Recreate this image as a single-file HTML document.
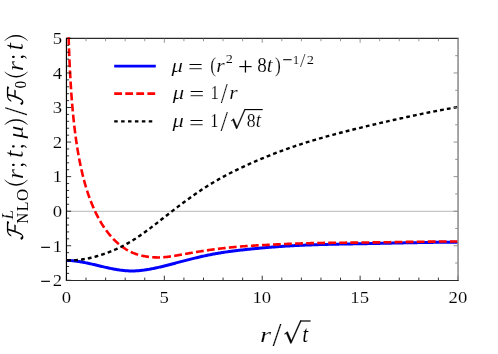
<!DOCTYPE html>
<html><head><meta charset="utf-8"><title>plot</title>
<style>html,body{margin:0;padding:0;background:#fff;}svg{display:block;will-change:transform;}text{font-family:"Liberation Serif",serif;fill:#000;}</style></head><body>
<svg width="498" height="354" viewBox="0 0 498 354">
<rect width="498" height="354" fill="#fff"/>
<defs><clipPath id="c"><rect x="65.95" y="37.00" width="392.75" height="244.90"/></clipPath></defs>
<line x1="66.45" y1="211.39" x2="458.00" y2="211.39" stroke="#c6c6c6" stroke-width="1.1"/>
<line x1="66.45" y1="38.40" x2="458.70" y2="38.40" stroke="#2a2a2a" stroke-width="1.2"/>
<g clip-path="url(#c)" fill="none" stroke-linejoin="round">
<path d="M66.45,260.37 L67.43,260.40 L68.41,260.44 L69.39,260.49 L70.37,260.55 L71.34,260.63 L72.32,260.71 L73.30,260.81 L74.28,260.92 L75.26,261.03 L76.24,261.16 L77.22,261.29 L78.20,261.44 L79.18,261.59 L80.15,261.75 L81.13,261.92 L82.11,262.09 L83.09,262.27 L84.07,262.46 L85.05,262.65 L86.03,262.85 L87.01,263.05 L87.99,263.26 L88.96,263.47 L89.94,263.69 L90.92,263.91 L91.90,264.13 L92.88,264.35 L93.86,264.58 L94.84,264.81 L95.82,265.04 L96.80,265.27 L97.77,265.50 L98.75,265.74 L99.73,265.97 L100.71,266.20 L101.69,266.43 L102.67,266.66 L103.65,266.89 L104.63,267.11 L105.61,267.34 L106.58,267.56 L107.56,267.77 L108.54,267.99 L109.52,268.20 L110.50,268.40 L111.48,268.60 L112.46,268.79 L113.44,268.98 L114.41,269.16 L115.39,269.34 L116.37,269.51 L117.35,269.67 L118.33,269.82 L119.31,269.97 L120.29,270.11 L121.27,270.23 L122.25,270.35 L123.22,270.46 L124.20,270.56 L125.18,270.65 L126.16,270.73 L127.14,270.79 L128.12,270.85 L129.10,270.89 L130.08,270.92 L131.06,270.94 L132.03,270.94 L133.01,270.93 L133.99,270.91 L134.97,270.88 L135.95,270.84 L136.93,270.78 L137.91,270.72 L138.89,270.64 L139.87,270.56 L140.84,270.46 L141.82,270.36 L142.80,270.24 L143.78,270.12 L144.76,269.98 L145.74,269.84 L146.72,269.70 L147.70,269.54 L148.68,269.37 L149.65,269.20 L150.63,269.02 L151.61,268.84 L152.59,268.65 L153.57,268.45 L154.55,268.25 L155.53,268.04 L156.51,267.82 L157.49,267.61 L158.46,267.38 L159.44,267.15 L160.42,266.92 L161.40,266.69 L162.38,266.45 L163.36,266.21 L164.34,265.96 L165.32,265.72 L166.30,265.47 L167.27,265.22 L168.25,264.97 L169.23,264.71 L170.21,264.46 L171.19,264.20 L172.17,263.95 L173.15,263.69 L174.13,263.43 L175.11,263.18 L176.08,262.92 L177.06,262.66 L178.04,262.40 L179.02,262.15 L180.00,261.89 L180.98,261.63 L181.96,261.38 L182.94,261.12 L183.92,260.87 L184.89,260.62 L185.87,260.36 L186.85,260.11 L187.83,259.86 L188.81,259.61 L189.79,259.36 L190.77,259.12 L191.75,258.87 L192.72,258.63 L193.70,258.39 L194.68,258.15 L195.66,257.91 L196.64,257.67 L197.62,257.44 L198.60,257.21 L199.58,256.98 L200.56,256.76 L201.53,256.53 L202.51,256.31 L203.49,256.09 L204.47,255.88 L205.45,255.67 L206.43,255.46 L207.41,255.25 L208.39,255.05 L209.37,254.85 L210.34,254.66 L211.32,254.47 L212.30,254.28 L213.28,254.10 L214.26,253.92 L215.24,253.74 L216.22,253.57 L217.20,253.40 L218.18,253.23 L219.15,253.06 L220.13,252.90 L221.11,252.75 L222.09,252.59 L223.07,252.44 L224.05,252.29 L225.03,252.14 L226.01,252.00 L226.99,251.86 L227.96,251.72 L228.94,251.58 L229.92,251.45 L230.90,251.32 L231.88,251.19 L232.86,251.06 L233.84,250.93 L234.82,250.81 L235.80,250.69 L236.77,250.57 L237.75,250.45 L238.73,250.34 L239.71,250.22 L240.69,250.11 L241.67,250.00 L242.65,249.89 L243.63,249.78 L244.61,249.67 L245.58,249.57 L246.56,249.47 L247.54,249.36 L248.52,249.26 L249.50,249.16 L250.48,249.06 L251.46,248.96 L252.44,248.86 L253.42,248.77 L254.39,248.67 L255.37,248.57 L256.35,248.48 L257.33,248.39 L258.31,248.29 L259.29,248.20 L260.27,248.11 L261.25,248.02 L262.23,247.93 L263.20,247.85 L264.18,247.76 L265.16,247.67 L266.14,247.59 L267.12,247.51 L268.10,247.42 L269.08,247.34 L270.06,247.26 L271.03,247.18 L272.01,247.10 L272.99,247.03 L273.97,246.95 L274.95,246.88 L275.93,246.80 L276.91,246.73 L277.89,246.66 L278.87,246.59 L279.84,246.52 L280.82,246.45 L281.80,246.38 L282.78,246.32 L283.76,246.25 L284.74,246.19 L285.72,246.12 L286.70,246.06 L287.68,246.00 L288.65,245.94 L289.63,245.89 L290.61,245.83 L291.59,245.77 L292.57,245.72 L293.55,245.67 L294.53,245.61 L295.51,245.56 L296.49,245.51 L297.46,245.46 L298.44,245.42 L299.42,245.37 L300.40,245.32 L301.38,245.28 L302.36,245.23 L303.34,245.19 L304.32,245.15 L305.30,245.11 L306.27,245.07 L307.25,245.03 L308.23,244.99 L309.21,244.95 L310.19,244.92 L311.17,244.88 L312.15,244.84 L313.13,244.81 L314.11,244.78 L315.08,244.74 L316.06,244.71 L317.04,244.68 L318.02,244.65 L319.00,244.62 L319.98,244.59 L320.96,244.56 L321.94,244.53 L322.92,244.51 L323.89,244.48 L324.87,244.45 L325.85,244.43 L326.83,244.40 L327.81,244.38 L328.79,244.35 L329.77,244.33 L330.75,244.31 L331.73,244.28 L332.70,244.26 L333.68,244.24 L334.66,244.22 L335.64,244.20 L336.62,244.18 L337.60,244.15 L338.58,244.13 L339.56,244.12 L340.53,244.10 L341.51,244.08 L342.49,244.06 L343.47,244.04 L344.45,244.02 L345.43,244.00 L346.41,243.99 L347.39,243.97 L348.37,243.95 L349.34,243.93 L350.32,243.92 L351.30,243.90 L352.28,243.88 L353.26,243.86 L354.24,243.85 L355.22,243.83 L356.20,243.81 L357.18,243.80 L358.15,243.78 L359.13,243.76 L360.11,243.75 L361.09,243.73 L362.07,243.71 L363.05,243.70 L364.03,243.68 L365.01,243.66 L365.99,243.64 L366.96,243.63 L367.94,243.61 L368.92,243.59 L369.90,243.57 L370.88,243.56 L371.86,243.54 L372.84,243.52 L373.82,243.50 L374.80,243.48 L375.77,243.46 L376.75,243.44 L377.73,243.42 L378.71,243.40 L379.69,243.38 L380.67,243.36 L381.65,243.34 L382.63,243.32 L383.61,243.30 L384.58,243.28 L385.56,243.26 L386.54,243.24 L387.52,243.22 L388.50,243.20 L389.48,243.18 L390.46,243.16 L391.44,243.14 L392.42,243.12 L393.39,243.10 L394.37,243.08 L395.35,243.06 L396.33,243.04 L397.31,243.02 L398.29,242.99 L399.27,242.97 L400.25,242.95 L401.23,242.93 L402.20,242.91 L403.18,242.89 L404.16,242.87 L405.14,242.85 L406.12,242.83 L407.10,242.81 L408.08,242.79 L409.06,242.78 L410.04,242.76 L411.01,242.74 L411.99,242.72 L412.97,242.70 L413.95,242.68 L414.93,242.66 L415.91,242.64 L416.89,242.63 L417.87,242.61 L418.85,242.59 L419.82,242.57 L420.80,242.56 L421.78,242.54 L422.76,242.52 L423.74,242.51 L424.72,242.49 L425.70,242.48 L426.68,242.46 L427.65,242.45 L428.63,242.43 L429.61,242.42 L430.59,242.40 L431.57,242.39 L432.55,242.38 L433.53,242.37 L434.51,242.35 L435.49,242.34 L436.46,242.33 L437.44,242.32 L438.42,242.31 L439.40,242.30 L440.38,242.29 L441.36,242.28 L442.34,242.27 L443.32,242.26 L444.30,242.25 L445.27,242.25 L446.25,242.24 L447.23,242.23 L448.21,242.23 L449.19,242.22 L450.17,242.22 L451.15,242.21 L452.13,242.21 L453.11,242.21 L454.08,242.20 L455.06,242.20 L456.04,242.20 L457.02,242.20 L458.00,242.20" stroke="#0000ff" stroke-width="3"/>
<path d="M68.60,37.02 L68.64,38.40 L68.84,44.20 L69.03,49.55 L69.22,54.51 L69.42,59.14 L69.61,63.48 L69.80,67.55 L70.00,71.40 L70.19,75.05 L70.38,78.51 L70.58,81.80 L70.77,84.94 L70.96,87.95 L71.16,90.82 L71.35,93.58 L71.54,96.24 L71.73,98.79 L71.93,101.26 L72.12,103.63 L72.31,105.93 L72.51,108.15 L72.70,110.30 L72.89,112.38 L73.09,114.41 L73.28,116.37 L73.47,118.28 L73.67,120.14 L73.86,121.94 L74.05,123.70 L74.25,125.41 L74.44,127.09 L74.63,128.72 L74.83,130.31 L75.02,131.87 L75.21,133.39 L75.40,134.87 L75.60,136.32 L75.79,137.75 L75.98,139.14 L76.18,140.50 L76.37,141.84 L76.56,143.15 L76.76,144.44 L76.95,145.70 L77.14,146.93 L77.34,148.15 L77.53,149.34 L77.72,150.51 L77.92,151.66 L78.11,152.79 L78.30,153.90 L78.49,154.99 L78.69,156.06 L78.88,157.12 L79.07,158.16 L79.27,159.18 L79.46,160.19 L79.65,161.18 L79.85,162.15 L80.04,163.11 L80.23,164.06 L80.43,164.99 L80.62,165.91 L80.81,166.82 L81.01,167.71 L81.20,168.59 L81.39,169.46 L81.59,170.32 L81.78,171.16 L81.97,172.00 L82.16,172.82 L82.36,173.63 L82.55,174.43 L82.74,175.22 L82.94,176.01 L83.13,176.78 L83.32,177.54 L83.52,178.29 L83.71,179.03 L83.90,179.77 L84.10,180.49 L84.29,181.21 L84.48,181.92 L84.68,182.62 L84.87,183.31 L85.06,183.99 L85.25,184.67 L85.45,185.34 L85.64,186.00 L85.83,186.65 L86.03,187.30 L86.42,188.59 L87.35,191.54 L88.28,194.35 L89.21,197.02 L90.14,199.57 L91.08,202.01 L92.01,204.34 L92.94,206.57 L93.87,208.71 L94.80,210.76 L95.73,212.73 L96.66,214.62 L97.59,216.44 L98.53,218.19 L99.46,219.87 L100.39,221.49 L101.32,223.05 L102.25,224.56 L103.18,226.01 L104.11,227.42 L105.04,228.77 L105.98,230.08 L106.91,231.34 L107.84,232.55 L108.77,233.73 L109.70,234.86 L110.63,235.96 L111.56,237.02 L112.49,238.04 L113.43,239.03 L114.36,239.98 L115.29,240.90 L116.22,241.79 L117.15,242.64 L118.08,243.46 L119.01,244.26 L119.95,245.02 L120.88,245.75 L121.81,246.46 L122.74,247.14 L123.67,247.79 L124.60,248.41 L125.53,249.01 L126.46,249.58 L127.40,250.12 L128.33,250.64 L129.26,251.13 L130.19,251.60 L131.12,252.05 L132.05,252.47 L132.98,252.87 L133.91,253.24 L134.85,253.60 L135.78,253.93 L136.71,254.25 L137.64,254.54 L138.57,254.82 L139.50,255.08 L140.43,255.33 L141.36,255.56 L142.30,255.77 L143.23,255.97 L144.16,256.15 L145.09,256.32 L146.02,256.48 L146.95,256.63 L147.88,256.76 L148.81,256.88 L149.75,256.98 L150.68,257.08 L151.61,257.17 L152.54,257.24 L153.47,257.30 L154.40,257.35 L155.33,257.39 L156.27,257.42 L157.20,257.43 L158.13,257.44 L159.06,257.43 L159.99,257.41 L160.92,257.38 L161.85,257.34 L162.78,257.29 L163.72,257.23 L164.65,257.15 L165.58,257.07 L166.51,256.98 L167.44,256.87 L168.37,256.76 L169.30,256.64 L170.23,256.52 L171.17,256.38 L172.10,256.25 L173.03,256.10 L173.96,255.95 L174.89,255.80 L175.82,255.64 L176.75,255.48 L177.68,255.31 L178.62,255.15 L179.55,254.98 L180.48,254.81 L181.41,254.64 L182.34,254.48 L183.27,254.31 L184.20,254.14 L185.13,253.97 L186.07,253.80 L187.00,253.64 L187.93,253.47 L188.86,253.30 L189.79,253.14 L190.72,252.98 L191.65,252.82 L192.59,252.66 L193.52,252.50 L194.45,252.34 L195.38,252.19 L196.31,252.03 L197.24,251.88 L198.17,251.73 L199.10,251.57 L200.04,251.42 L200.97,251.28 L201.90,251.13 L202.83,250.98 L203.76,250.84 L204.69,250.70 L205.62,250.55 L206.55,250.41 L207.49,250.28 L208.42,250.14 L209.35,250.01 L210.28,249.87 L211.21,249.74 L212.14,249.61 L213.07,249.49 L214.00,249.36 L214.94,249.24 L215.87,249.12 L216.80,249.00 L217.73,248.88 L218.66,248.76 L219.59,248.65 L220.52,248.54 L221.45,248.42 L222.39,248.31 L223.32,248.20 L224.25,248.10 L225.18,247.99 L226.11,247.89 L227.04,247.79 L227.97,247.69 L228.90,247.59 L229.84,247.49 L230.77,247.39 L231.70,247.30 L232.63,247.21 L233.56,247.12 L234.49,247.03 L235.42,246.94 L236.36,246.86 L237.29,246.78 L238.22,246.70 L239.15,246.62 L240.08,246.54 L241.01,246.47 L241.94,246.39 L242.87,246.32 L243.81,246.25 L244.74,246.19 L245.67,246.12 L246.60,246.05 L247.53,245.99 L248.46,245.93 L249.39,245.87 L250.32,245.81 L251.26,245.75 L252.19,245.70 L253.12,245.64 L254.05,245.58 L254.98,245.53 L255.91,245.48 L256.84,245.42 L257.77,245.37 L258.71,245.32 L259.64,245.27 L260.57,245.22 L261.50,245.17 L262.43,245.12 L263.36,245.07 L264.29,245.02 L265.22,244.97 L266.16,244.93 L267.09,244.88 L268.02,244.83 L268.95,244.78 L269.88,244.74 L270.81,244.69 L271.74,244.64 L272.68,244.60 L273.61,244.55 L274.54,244.51 L275.47,244.46 L276.40,244.41 L277.33,244.37 L278.26,244.33 L279.19,244.28 L280.13,244.24 L281.06,244.20 L281.99,244.15 L282.92,244.11 L283.85,244.07 L284.78,244.03 L285.71,243.99 L286.64,243.95 L287.58,243.91 L288.51,243.87 L289.44,243.83 L290.37,243.80 L291.30,243.76 L292.23,243.73 L293.16,243.69 L294.09,243.66 L295.03,243.62 L295.96,243.59 L296.89,243.56 L297.82,243.53 L298.75,243.50 L299.68,243.47 L300.61,243.44 L301.54,243.41 L302.48,243.39 L303.41,243.36 L304.34,243.33 L305.27,243.31 L306.20,243.28 L307.13,243.26 L308.06,243.24 L309.00,243.21 L309.93,243.19 L310.86,243.17 L311.79,243.15 L312.72,243.13 L313.65,243.11 L314.58,243.09 L315.51,243.07 L316.45,243.05 L317.38,243.03 L318.31,243.02 L319.24,243.00 L320.17,242.98 L321.10,242.97 L322.03,242.95 L322.96,242.94 L323.90,242.92 L324.83,242.91 L325.76,242.90 L326.69,242.88 L327.62,242.87 L328.55,242.86 L329.48,242.84 L330.41,242.83 L331.35,242.82 L332.28,242.81 L333.21,242.80 L334.14,242.79 L335.07,242.78 L336.00,242.77 L336.93,242.76 L337.86,242.75 L338.80,242.74 L339.73,242.73 L340.66,242.72 L341.59,242.71 L342.52,242.70 L343.45,242.69 L344.38,242.68 L345.32,242.68 L346.25,242.67 L347.18,242.66 L348.11,242.65 L349.04,242.64 L349.97,242.63 L350.90,242.63 L351.83,242.62 L352.77,242.61 L353.70,242.60 L354.63,242.59 L355.56,242.59 L356.49,242.58 L357.42,242.57 L358.35,242.56 L359.28,242.55 L360.22,242.54 L361.15,242.54 L362.08,242.53 L363.01,242.52 L363.94,242.51 L364.87,242.50 L365.80,242.49 L366.73,242.48 L367.67,242.47 L368.60,242.46 L369.53,242.45 L370.46,242.44 L371.39,242.43 L372.32,242.42 L373.25,242.41 L374.18,242.40 L375.12,242.39 L376.05,242.37 L376.98,242.36 L377.91,242.35 L378.84,242.34 L379.77,242.32 L380.70,242.31 L381.63,242.30 L382.57,242.29 L383.50,242.27 L384.43,242.26 L385.36,242.25 L386.29,242.23 L387.22,242.22 L388.15,242.20 L389.09,242.19 L390.02,242.18 L390.95,242.16 L391.88,242.15 L392.81,242.13 L393.74,242.12 L394.67,242.11 L395.60,242.09 L396.54,242.08 L397.47,242.06 L398.40,242.05 L399.33,242.03 L400.26,242.02 L401.19,242.01 L402.12,241.99 L403.05,241.98 L403.99,241.96 L404.92,241.95 L405.85,241.94 L406.78,241.92 L407.71,241.91 L408.64,241.89 L409.57,241.88 L410.50,241.87 L411.44,241.85 L412.37,241.84 L413.30,241.83 L414.23,241.81 L415.16,241.80 L416.09,241.79 L417.02,241.78 L417.95,241.76 L418.89,241.75 L419.82,241.74 L420.75,241.73 L421.68,241.72 L422.61,241.71 L423.54,241.69 L424.47,241.68 L425.41,241.67 L426.34,241.66 L427.27,241.65 L428.20,241.64 L429.13,241.63 L430.06,241.62 L430.99,241.61 L431.92,241.61 L432.86,241.60 L433.79,241.59 L434.72,241.58 L435.65,241.57 L436.58,241.57 L437.51,241.56 L438.44,241.55 L439.37,241.55 L440.31,241.54 L441.24,241.54 L442.17,241.53 L443.10,241.53 L444.03,241.52 L444.96,241.52 L445.89,241.52 L446.82,241.51 L447.76,241.51 L448.69,241.51 L449.62,241.51 L450.55,241.51 L451.48,241.51 L452.41,241.51 L453.34,241.51 L454.27,241.51 L455.21,241.51 L456.14,241.51 L457.07,241.52 L458.00,241.52" stroke="#ff0000" stroke-width="2.6" stroke-dasharray="7.8 3.26" stroke-dashoffset="-0.28"/>
<path d="M66.45,260.37 L67.43,260.39 L68.41,260.40 L69.39,260.39 L70.37,260.38 L71.34,260.36 L72.32,260.33 L73.30,260.29 L74.28,260.24 L75.26,260.17 L76.24,260.10 L77.22,260.02 L78.20,259.92 L79.18,259.82 L80.15,259.70 L81.13,259.58 L82.11,259.44 L83.09,259.30 L84.07,259.14 L85.05,258.97 L86.03,258.80 L87.01,258.61 L87.99,258.42 L88.96,258.21 L89.94,257.99 L90.92,257.77 L91.90,257.54 L92.88,257.30 L93.86,257.05 L94.84,256.79 L95.82,256.52 L96.80,256.24 L97.77,255.96 L98.75,255.66 L99.73,255.36 L100.71,255.06 L101.69,254.74 L102.67,254.41 L103.65,254.08 L104.63,253.74 L105.61,253.39 L106.58,253.04 L107.56,252.68 L108.54,252.31 L109.52,251.93 L110.50,251.54 L111.48,251.15 L112.46,250.74 L113.44,250.33 L114.41,249.92 L115.39,249.49 L116.37,249.05 L117.35,248.61 L118.33,248.16 L119.31,247.70 L120.29,247.23 L121.27,246.75 L122.25,246.26 L123.22,245.76 L124.20,245.25 L125.18,244.73 L126.16,244.20 L127.14,243.66 L128.12,243.11 L129.10,242.55 L130.08,241.98 L131.06,241.39 L132.03,240.80 L133.01,240.19 L133.99,239.57 L134.97,238.95 L135.95,238.31 L136.93,237.66 L137.91,237.01 L138.89,236.35 L139.87,235.68 L140.84,235.00 L141.82,234.31 L142.80,233.62 L143.78,232.92 L144.76,232.21 L145.74,231.50 L146.72,230.78 L147.70,230.05 L148.68,229.33 L149.65,228.59 L150.63,227.85 L151.61,227.11 L152.59,226.37 L153.57,225.62 L154.55,224.87 L155.53,224.11 L156.51,223.35 L157.49,222.59 L158.46,221.83 L159.44,221.07 L160.42,220.30 L161.40,219.54 L162.38,218.77 L163.36,218.01 L164.34,217.24 L165.32,216.47 L166.30,215.71 L167.27,214.94 L168.25,214.18 L169.23,213.42 L170.21,212.65 L171.19,211.90 L172.17,211.14 L173.15,210.38 L174.13,209.63 L175.11,208.88 L176.08,208.13 L177.06,207.39 L178.04,206.65 L179.02,205.91 L180.00,205.17 L180.98,204.44 L181.96,203.71 L182.94,202.98 L183.92,202.25 L184.89,201.53 L185.87,200.81 L186.85,200.10 L187.83,199.39 L188.81,198.68 L189.79,197.98 L190.77,197.28 L191.75,196.58 L192.72,195.89 L193.70,195.20 L194.68,194.52 L195.66,193.84 L196.64,193.17 L197.62,192.50 L198.60,191.83 L199.58,191.17 L200.56,190.51 L201.53,189.86 L202.51,189.22 L203.49,188.58 L204.47,187.94 L205.45,187.31 L206.43,186.68 L207.41,186.06 L208.39,185.45 L209.37,184.84 L210.34,184.24 L211.32,183.64 L212.30,183.05 L213.28,182.46 L214.26,181.88 L215.24,181.31 L216.22,180.74 L217.20,180.17 L218.18,179.61 L219.15,179.06 L220.13,178.51 L221.11,177.96 L222.09,177.42 L223.07,176.89 L224.05,176.36 L225.03,175.83 L226.01,175.31 L226.99,174.79 L227.96,174.28 L228.94,173.77 L229.92,173.27 L230.90,172.77 L231.88,172.27 L232.86,171.78 L233.84,171.29 L234.82,170.80 L235.80,170.32 L236.77,169.85 L237.75,169.37 L238.73,168.90 L239.71,168.43 L240.69,167.97 L241.67,167.51 L242.65,167.05 L243.63,166.60 L244.61,166.14 L245.58,165.69 L246.56,165.25 L247.54,164.80 L248.52,164.36 L249.50,163.92 L250.48,163.49 L251.46,163.06 L252.44,162.62 L253.42,162.19 L254.39,161.77 L255.37,161.34 L256.35,160.92 L257.33,160.50 L258.31,160.09 L259.29,159.67 L260.27,159.26 L261.25,158.85 L262.23,158.44 L263.20,158.04 L264.18,157.63 L265.16,157.23 L266.14,156.83 L267.12,156.44 L268.10,156.05 L269.08,155.65 L270.06,155.27 L271.03,154.88 L272.01,154.49 L272.99,154.11 L273.97,153.73 L274.95,153.36 L275.93,152.98 L276.91,152.61 L277.89,152.24 L278.87,151.87 L279.84,151.50 L280.82,151.14 L281.80,150.78 L282.78,150.42 L283.76,150.07 L284.74,149.71 L285.72,149.36 L286.70,149.01 L287.68,148.66 L288.65,148.32 L289.63,147.98 L290.61,147.64 L291.59,147.30 L292.57,146.96 L293.55,146.63 L294.53,146.30 L295.51,145.97 L296.49,145.64 L297.46,145.32 L298.44,144.99 L299.42,144.67 L300.40,144.35 L301.38,144.04 L302.36,143.72 L303.34,143.41 L304.32,143.10 L305.30,142.79 L306.27,142.48 L307.25,142.18 L308.23,141.87 L309.21,141.57 L310.19,141.27 L311.17,140.97 L312.15,140.68 L313.13,140.38 L314.11,140.09 L315.08,139.80 L316.06,139.51 L317.04,139.22 L318.02,138.93 L319.00,138.65 L319.98,138.36 L320.96,138.08 L321.94,137.80 L322.92,137.52 L323.89,137.25 L324.87,136.97 L325.85,136.70 L326.83,136.42 L327.81,136.15 L328.79,135.88 L329.77,135.61 L330.75,135.35 L331.73,135.08 L332.70,134.81 L333.68,134.55 L334.66,134.29 L335.64,134.03 L336.62,133.77 L337.60,133.51 L338.58,133.25 L339.56,132.99 L340.53,132.74 L341.51,132.48 L342.49,132.23 L343.47,131.98 L344.45,131.72 L345.43,131.47 L346.41,131.22 L347.39,130.97 L348.37,130.73 L349.34,130.48 L350.32,130.23 L351.30,129.99 L352.28,129.74 L353.26,129.50 L354.24,129.26 L355.22,129.02 L356.20,128.77 L357.18,128.53 L358.15,128.29 L359.13,128.06 L360.11,127.82 L361.09,127.58 L362.07,127.34 L363.05,127.10 L364.03,126.87 L365.01,126.63 L365.99,126.40 L366.96,126.16 L367.94,125.93 L368.92,125.70 L369.90,125.46 L370.88,125.23 L371.86,125.00 L372.84,124.77 L373.82,124.54 L374.80,124.31 L375.77,124.07 L376.75,123.84 L377.73,123.62 L378.71,123.39 L379.69,123.16 L380.67,122.93 L381.65,122.70 L382.63,122.48 L383.61,122.25 L384.58,122.02 L385.56,121.80 L386.54,121.57 L387.52,121.35 L388.50,121.12 L389.48,120.90 L390.46,120.68 L391.44,120.46 L392.42,120.23 L393.39,120.01 L394.37,119.79 L395.35,119.57 L396.33,119.35 L397.31,119.14 L398.29,118.92 L399.27,118.70 L400.25,118.48 L401.23,118.27 L402.20,118.05 L403.18,117.84 L404.16,117.62 L405.14,117.41 L406.12,117.19 L407.10,116.98 L408.08,116.77 L409.06,116.56 L410.04,116.35 L411.01,116.14 L411.99,115.93 L412.97,115.72 L413.95,115.51 L414.93,115.31 L415.91,115.10 L416.89,114.89 L417.87,114.69 L418.85,114.49 L419.82,114.28 L420.80,114.08 L421.78,113.88 L422.76,113.68 L423.74,113.48 L424.72,113.28 L425.70,113.08 L426.68,112.88 L427.65,112.68 L428.63,112.49 L429.61,112.29 L430.59,112.10 L431.57,111.90 L432.55,111.71 L433.53,111.52 L434.51,111.33 L435.49,111.14 L436.46,110.95 L437.44,110.76 L438.42,110.57 L439.40,110.38 L440.38,110.20 L441.36,110.01 L442.34,109.83 L443.32,109.64 L444.30,109.46 L445.27,109.28 L446.25,109.10 L447.23,108.92 L448.21,108.74 L449.19,108.56 L450.17,108.39 L451.15,108.21 L452.13,108.04 L453.11,107.86 L454.08,107.69 L455.06,107.52 L456.04,107.35 L457.02,107.18 L458.00,107.01" stroke="#000" stroke-width="2.4" stroke-dasharray="3.8 3.111" stroke-dashoffset="-0.8"/>
</g>
<line x1="66.45" y1="280.30" x2="66.45" y2="275.70" stroke="#000" stroke-width="0.8"/>
<line x1="86.03" y1="280.30" x2="86.03" y2="277.60" stroke="#000" stroke-width="0.8"/>
<line x1="86.03" y1="38.40" x2="86.03" y2="41.20" stroke="#777" stroke-width="0.8"/>
<line x1="105.61" y1="280.30" x2="105.61" y2="277.60" stroke="#000" stroke-width="0.8"/>
<line x1="105.61" y1="38.40" x2="105.61" y2="41.20" stroke="#777" stroke-width="0.8"/>
<line x1="125.18" y1="280.30" x2="125.18" y2="277.60" stroke="#000" stroke-width="0.8"/>
<line x1="125.18" y1="38.40" x2="125.18" y2="41.20" stroke="#777" stroke-width="0.8"/>
<line x1="144.76" y1="280.30" x2="144.76" y2="277.60" stroke="#000" stroke-width="0.8"/>
<line x1="144.76" y1="38.40" x2="144.76" y2="41.20" stroke="#777" stroke-width="0.8"/>
<line x1="164.34" y1="280.30" x2="164.34" y2="275.70" stroke="#000" stroke-width="0.8"/>
<line x1="164.34" y1="38.40" x2="164.34" y2="42.80" stroke="#777" stroke-width="0.8"/>
<line x1="183.92" y1="280.30" x2="183.92" y2="277.60" stroke="#000" stroke-width="0.8"/>
<line x1="183.92" y1="38.40" x2="183.92" y2="41.20" stroke="#777" stroke-width="0.8"/>
<line x1="203.49" y1="280.30" x2="203.49" y2="277.60" stroke="#000" stroke-width="0.8"/>
<line x1="203.49" y1="38.40" x2="203.49" y2="41.20" stroke="#777" stroke-width="0.8"/>
<line x1="223.07" y1="280.30" x2="223.07" y2="277.60" stroke="#000" stroke-width="0.8"/>
<line x1="223.07" y1="38.40" x2="223.07" y2="41.20" stroke="#777" stroke-width="0.8"/>
<line x1="242.65" y1="280.30" x2="242.65" y2="277.60" stroke="#000" stroke-width="0.8"/>
<line x1="242.65" y1="38.40" x2="242.65" y2="41.20" stroke="#777" stroke-width="0.8"/>
<line x1="262.23" y1="280.30" x2="262.23" y2="275.70" stroke="#000" stroke-width="0.8"/>
<line x1="262.23" y1="38.40" x2="262.23" y2="42.80" stroke="#777" stroke-width="0.8"/>
<line x1="281.80" y1="280.30" x2="281.80" y2="277.60" stroke="#000" stroke-width="0.8"/>
<line x1="281.80" y1="38.40" x2="281.80" y2="41.20" stroke="#777" stroke-width="0.8"/>
<line x1="301.38" y1="280.30" x2="301.38" y2="277.60" stroke="#000" stroke-width="0.8"/>
<line x1="301.38" y1="38.40" x2="301.38" y2="41.20" stroke="#777" stroke-width="0.8"/>
<line x1="320.96" y1="280.30" x2="320.96" y2="277.60" stroke="#000" stroke-width="0.8"/>
<line x1="320.96" y1="38.40" x2="320.96" y2="41.20" stroke="#777" stroke-width="0.8"/>
<line x1="340.53" y1="280.30" x2="340.53" y2="277.60" stroke="#000" stroke-width="0.8"/>
<line x1="340.53" y1="38.40" x2="340.53" y2="41.20" stroke="#777" stroke-width="0.8"/>
<line x1="360.11" y1="280.30" x2="360.11" y2="275.70" stroke="#000" stroke-width="0.8"/>
<line x1="360.11" y1="38.40" x2="360.11" y2="42.80" stroke="#777" stroke-width="0.8"/>
<line x1="379.69" y1="280.30" x2="379.69" y2="277.60" stroke="#000" stroke-width="0.8"/>
<line x1="379.69" y1="38.40" x2="379.69" y2="41.20" stroke="#777" stroke-width="0.8"/>
<line x1="399.27" y1="280.30" x2="399.27" y2="277.60" stroke="#000" stroke-width="0.8"/>
<line x1="399.27" y1="38.40" x2="399.27" y2="41.20" stroke="#777" stroke-width="0.8"/>
<line x1="418.85" y1="280.30" x2="418.85" y2="277.60" stroke="#000" stroke-width="0.8"/>
<line x1="418.85" y1="38.40" x2="418.85" y2="41.20" stroke="#777" stroke-width="0.8"/>
<line x1="438.42" y1="280.30" x2="438.42" y2="277.60" stroke="#000" stroke-width="0.8"/>
<line x1="438.42" y1="38.40" x2="438.42" y2="41.20" stroke="#777" stroke-width="0.8"/>
<line x1="458.00" y1="280.30" x2="458.00" y2="275.70" stroke="#000" stroke-width="0.8"/>
<line x1="66.45" y1="280.30" x2="71.15" y2="280.30" stroke="#000" stroke-width="0.8"/>
<line x1="66.45" y1="273.39" x2="69.15" y2="273.39" stroke="#000" stroke-width="0.8"/>
<line x1="66.45" y1="266.48" x2="69.15" y2="266.48" stroke="#000" stroke-width="0.8"/>
<line x1="66.45" y1="259.57" x2="69.15" y2="259.57" stroke="#000" stroke-width="0.8"/>
<line x1="66.45" y1="252.65" x2="69.15" y2="252.65" stroke="#000" stroke-width="0.8"/>
<line x1="66.45" y1="245.74" x2="71.15" y2="245.74" stroke="#000" stroke-width="0.8"/>
<line x1="66.45" y1="238.83" x2="69.15" y2="238.83" stroke="#000" stroke-width="0.8"/>
<line x1="66.45" y1="231.92" x2="69.15" y2="231.92" stroke="#000" stroke-width="0.8"/>
<line x1="66.45" y1="225.01" x2="69.15" y2="225.01" stroke="#000" stroke-width="0.8"/>
<line x1="66.45" y1="218.10" x2="69.15" y2="218.10" stroke="#000" stroke-width="0.8"/>
<line x1="66.45" y1="211.19" x2="71.15" y2="211.19" stroke="#000" stroke-width="0.8"/>
<line x1="66.45" y1="204.27" x2="69.15" y2="204.27" stroke="#000" stroke-width="0.8"/>
<line x1="66.45" y1="197.36" x2="69.15" y2="197.36" stroke="#000" stroke-width="0.8"/>
<line x1="66.45" y1="190.45" x2="69.15" y2="190.45" stroke="#000" stroke-width="0.8"/>
<line x1="66.45" y1="183.54" x2="69.15" y2="183.54" stroke="#000" stroke-width="0.8"/>
<line x1="66.45" y1="176.63" x2="71.15" y2="176.63" stroke="#000" stroke-width="0.8"/>
<line x1="66.45" y1="169.72" x2="69.15" y2="169.72" stroke="#000" stroke-width="0.8"/>
<line x1="66.45" y1="162.81" x2="69.15" y2="162.81" stroke="#000" stroke-width="0.8"/>
<line x1="66.45" y1="155.89" x2="69.15" y2="155.89" stroke="#000" stroke-width="0.8"/>
<line x1="66.45" y1="148.98" x2="69.15" y2="148.98" stroke="#000" stroke-width="0.8"/>
<line x1="66.45" y1="142.07" x2="71.15" y2="142.07" stroke="#000" stroke-width="0.8"/>
<line x1="66.45" y1="135.16" x2="69.15" y2="135.16" stroke="#000" stroke-width="0.8"/>
<line x1="66.45" y1="128.25" x2="69.15" y2="128.25" stroke="#000" stroke-width="0.8"/>
<line x1="66.45" y1="121.34" x2="69.15" y2="121.34" stroke="#000" stroke-width="0.8"/>
<line x1="66.45" y1="114.43" x2="69.15" y2="114.43" stroke="#000" stroke-width="0.8"/>
<line x1="66.45" y1="107.51" x2="71.15" y2="107.51" stroke="#000" stroke-width="0.8"/>
<line x1="66.45" y1="100.60" x2="69.15" y2="100.60" stroke="#000" stroke-width="0.8"/>
<line x1="66.45" y1="93.69" x2="69.15" y2="93.69" stroke="#000" stroke-width="0.8"/>
<line x1="66.45" y1="86.78" x2="69.15" y2="86.78" stroke="#000" stroke-width="0.8"/>
<line x1="66.45" y1="79.87" x2="69.15" y2="79.87" stroke="#000" stroke-width="0.8"/>
<line x1="66.45" y1="72.96" x2="71.15" y2="72.96" stroke="#000" stroke-width="0.8"/>
<line x1="66.45" y1="66.05" x2="69.15" y2="66.05" stroke="#000" stroke-width="0.8"/>
<line x1="66.45" y1="59.13" x2="69.15" y2="59.13" stroke="#000" stroke-width="0.8"/>
<line x1="66.45" y1="52.22" x2="69.15" y2="52.22" stroke="#000" stroke-width="0.8"/>
<line x1="66.45" y1="45.31" x2="69.15" y2="45.31" stroke="#000" stroke-width="0.8"/>
<line x1="66.45" y1="38.40" x2="71.15" y2="38.40" stroke="#000" stroke-width="0.8"/>
<line x1="458.00" y1="263.02" x2="455.20" y2="263.02" stroke="#777" stroke-width="0.8"/>
<line x1="458.00" y1="245.74" x2="453.60" y2="245.74" stroke="#777" stroke-width="0.8"/>
<line x1="458.00" y1="228.46" x2="455.20" y2="228.46" stroke="#777" stroke-width="0.8"/>
<line x1="458.00" y1="211.19" x2="453.60" y2="211.19" stroke="#777" stroke-width="0.8"/>
<line x1="458.00" y1="193.91" x2="455.20" y2="193.91" stroke="#777" stroke-width="0.8"/>
<line x1="458.00" y1="176.63" x2="453.60" y2="176.63" stroke="#777" stroke-width="0.8"/>
<line x1="458.00" y1="159.35" x2="455.20" y2="159.35" stroke="#777" stroke-width="0.8"/>
<line x1="458.00" y1="142.07" x2="453.60" y2="142.07" stroke="#777" stroke-width="0.8"/>
<line x1="458.00" y1="124.79" x2="455.20" y2="124.79" stroke="#777" stroke-width="0.8"/>
<line x1="458.00" y1="107.51" x2="453.60" y2="107.51" stroke="#777" stroke-width="0.8"/>
<line x1="458.00" y1="90.24" x2="455.20" y2="90.24" stroke="#777" stroke-width="0.8"/>
<line x1="458.00" y1="72.96" x2="453.60" y2="72.96" stroke="#777" stroke-width="0.8"/>
<line x1="458.00" y1="55.68" x2="455.20" y2="55.68" stroke="#777" stroke-width="0.8"/>
<line x1="458.05" y1="38.40" x2="458.05" y2="280.30" stroke="#8f8f8f" stroke-width="1.6"/>
<line x1="66.45" y1="37.80" x2="66.45" y2="280.90" stroke="#000" stroke-width="1.2"/>
<line x1="65.90" y1="280.42" x2="458.70" y2="280.42" stroke="#2a2a2a" stroke-width="1.05"/>
<text transform="translate(61.77,303.00) scale(1.100,1.000)" font-size="17.00" stroke="#fff" stroke-width="0.12">0</text>
<text transform="translate(159.48,303.00) scale(1.100,1.000)" font-size="17.00" stroke="#fff" stroke-width="0.12">5</text>
<text transform="translate(252.41,303.00) scale(1.100,1.000)" font-size="17.00" stroke="#fff" stroke-width="0.12">10</text>
<text transform="translate(350.31,303.00) scale(1.100,1.000)" font-size="17.00" stroke="#fff" stroke-width="0.12">15</text>
<text transform="translate(448.60,303.00) scale(1.100,1.000)" font-size="17.00" stroke="#fff" stroke-width="0.12">20</text>
<text transform="translate(52.75,44.20) scale(1.100,1.000)" font-size="17.00" stroke="#fff" stroke-width="0.12">5</text>
<text transform="translate(52.75,78.76) scale(1.100,1.000)" font-size="17.00" stroke="#fff" stroke-width="0.12">4</text>
<text transform="translate(52.75,113.31) scale(1.100,1.000)" font-size="17.00" stroke="#fff" stroke-width="0.12">3</text>
<text transform="translate(52.75,147.87) scale(1.100,1.000)" font-size="17.00" stroke="#fff" stroke-width="0.12">2</text>
<text transform="translate(52.75,182.43) scale(1.100,1.000)" font-size="17.00" stroke="#fff" stroke-width="0.12">1</text>
<text transform="translate(52.75,216.99) scale(1.100,1.000)" font-size="17.00" stroke="#fff" stroke-width="0.12">0</text>
<text transform="translate(52.75,251.54) scale(1.100,1.000)" font-size="17.00" stroke="#fff" stroke-width="0.12">1</text>
<text transform="translate(40.41,252.79) scale(1.049,1.000)" font-size="17.00" stroke="#000" stroke-width="0.40">−</text>
<text transform="translate(52.75,286.10) scale(1.100,1.000)" font-size="17.00" stroke="#fff" stroke-width="0.12">2</text>
<text transform="translate(40.41,287.35) scale(1.049,1.000)" font-size="17.00" stroke="#000" stroke-width="0.40">−</text>
<line x1="114.20" y1="66.20" x2="155.80" y2="66.20" stroke="#0000ff" stroke-width="2.8"/>
<line x1="114.2" y1="93.6" x2="155.8" y2="93.6" stroke="#ff0000" stroke-width="2.6" stroke-dasharray="7.8 3.26"/>
<line x1="114.2" y1="121.4" x2="155.5" y2="121.4" stroke="#000" stroke-width="2.4" stroke-dasharray="3.5 3.41"/>
<defs><path id="rad" d="M719 -1954 311 -1057 190 -1149Q184 -1155 176 -1155Q167 -1155 157.0 -1146.0Q147 -1137 147 -1126Q147 -1116 156 -1110L399 -926Q405 -920 414 -920Q427 -920 434 -934L801 -1741L1671 63Q1681 82 1706 82Q1723 82 1735.0 70.0Q1747 58 1747 41Q1747 31 1745 27L793 -1948Q780 -1966 760 -1966H737Q727 -1966 719 -1954Z"/><path id="calF" d="M35 92Q35 128 93.0 162.5Q151 197 190 201H203Q210 197 236.5 153.5Q263 110 301.5 81.5Q340 53 410 53Q424 71 434 88Q581 360 684 643Q740 797 784.5 961.5Q829 1126 854 1278H768Q564 1278 510 1087Q490 1051 444.5 1024.0Q399 997 356 993H344Q330 1002 330 1014Q361 1123 452.5 1211.0Q544 1299 665.0 1349.0Q786 1399 899 1399H1499Q1698 1399 1698 1321Q1698 1276 1644.0 1239.5Q1590 1203 1538 1198H1528Q1513 1206 1513 1210Q1514 1216 1515.0 1223.0Q1516 1230 1516 1233Q1516 1278 1346 1278H1022Q964 991 872 737H1389Q1403 730 1403 719Q1390 670 1342.0 635.5Q1294 601 1241 596H1229Q1214 604 1214 612V616H827Q737 386 614 158Q563 67 469.0 -0.5Q375 -68 281 -68H270Q190 -68 126.0 -25.5Q62 17 35 92Z"/></defs>
<text transform="translate(171.42,71.60) scale(1.139,0.910)" font-size="20.00" font-style="italic" stroke="#fff" stroke-width="0.15">μ</text>
<text transform="translate(187.96,74.20) scale(1.343,1.000)" font-size="20.00" stroke="#fff" stroke-width="0.15">=</text>
<text transform="translate(210.15,71.82) scale(0.857,1.075)" font-size="20.00" stroke="#fff" stroke-width="0.15">(</text>
<text transform="translate(216.22,71.60) scale(1.081,0.890)" font-size="20.00" font-style="italic" stroke="#fff" stroke-width="0.15">r</text>
<text transform="translate(225.68,63.30) scale(1.094,1.000)" font-size="13.00" stroke="#fff" stroke-width="0.10">2</text>
<text transform="translate(237.84,76.18) scale(1.365,1.352)" font-size="20.00" stroke="#fff" stroke-width="0.15">+</text>
<text transform="translate(257.37,71.90) scale(0.956,1.000)" font-size="20.00" stroke="#fff" stroke-width="0.15">8</text>
<text transform="translate(266.67,71.90) scale(1.063,1.070)" font-size="20.00" font-style="italic" stroke="#fff" stroke-width="0.15">t</text>
<text transform="translate(274.94,71.82) scale(0.876,1.075)" font-size="20.00" stroke="#fff" stroke-width="0.15">)</text>
<text transform="translate(282.24,64.30) scale(1.322,1.000)" font-size="13.00" stroke="#000" stroke-width="0.30">−</text>
<text transform="translate(292.85,63.80) scale(1.005,1.000)" font-size="13.00" stroke="#fff" stroke-width="0.10">1</text>
<text transform="translate(300.10,66.71) scale(1.523,1.495)" font-size="13.00" stroke="#fff" stroke-width="0.15">/</text>
<text transform="translate(306.66,63.80) scale(1.113,1.000)" font-size="13.00" stroke="#fff" stroke-width="0.10">2</text>
<text transform="translate(172.72,98.90) scale(1.139,0.910)" font-size="20.00" font-style="italic" stroke="#fff" stroke-width="0.15">μ</text>
<text transform="translate(189.27,101.00) scale(1.332,1.000)" font-size="20.00" stroke="#fff" stroke-width="0.15">=</text>
<text transform="translate(210.43,98.90) scale(0.855,1.000)" font-size="19.60" stroke="#fff" stroke-width="0.15">1</text>
<text transform="translate(220.80,103.12) scale(1.260,1.458)" font-size="20.00" stroke="#fff" stroke-width="0.15">/</text>
<text transform="translate(229.32,98.70) scale(1.081,0.890)" font-size="20.00" font-style="italic" stroke="#fff" stroke-width="0.15">r</text>
<text transform="translate(172.52,127.45) scale(1.128,0.910)" font-size="20.00" font-style="italic" stroke="#fff" stroke-width="0.15">μ</text>
<text transform="translate(189.07,129.95) scale(1.332,1.000)" font-size="20.00" stroke="#fff" stroke-width="0.15">=</text>
<text transform="translate(210.35,127.45) scale(0.841,1.000)" font-size="19.60" stroke="#fff" stroke-width="0.15">1</text>
<text transform="translate(220.40,131.42) scale(1.350,1.450)" font-size="20.00" stroke="#fff" stroke-width="0.15">/</text>
<use href="#rad" transform="translate(230.01,109.79) scale(0.00875,-0.00967)" stroke="#000" stroke-width="51.4"/><rect x="244.70" y="109.00" width="18.00" height="1.15"/>
<text transform="translate(246.63,127.35) scale(0.931,1.000)" font-size="19.00" stroke="#fff" stroke-width="0.15">8</text>
<text transform="translate(255.77,127.35) scale(0.995,1.070)" font-size="19.00" font-style="italic" stroke="#fff" stroke-width="0.15">t</text>
<text transform="translate(259.95,341.50) scale(1.185,0.860)" font-size="24.00" font-style="italic" stroke="#fff" stroke-width="0.15">r</text>
<text transform="translate(272.60,346.17) scale(1.350,1.395)" font-size="24.00" stroke="#fff" stroke-width="0.15">/</text>
<use href="#rad" transform="translate(283.07,321.32) scale(0.01037,-0.01123)" stroke="#000" stroke-width="43.4"/><rect x="300.60" y="320.40" width="10.00" height="1.20"/>
<text transform="translate(302.37,341.50) scale(0.886,0.970)" font-size="24.00" font-style="italic" stroke="#fff" stroke-width="0.15">t</text>
<g transform="translate(22.5,240) rotate(-90)"><use href="#calF" transform="translate(-0.19,0.10) scale(0.01123,-0.01123)"/>
<text transform="translate(20.50,-10.00) scale(1.069,1.000)" font-size="16.00" font-style="italic" stroke="#fff" stroke-width="0.10">L</text>
<text transform="translate(16.27,5.10) scale(0.904,1.000)" font-size="16.50">N</text>
<text transform="translate(28.85,5.10) scale(0.952,1.000)" font-size="16.50">L</text>
<text transform="translate(39.11,5.10) scale(1.013,1.000)" font-size="16.50">O</text>
<path d="M59.90,-17.90 A14.71,14.71 0 0 0 59.90,5.20 L60.40,5.20 A16.67,16.67 0 0 1 60.40,-17.90 Z"/>
<text transform="translate(60.96,0.00) scale(1.113,0.960)" font-size="23.00" font-style="italic" stroke="#fff" stroke-width="0.15">r</text>
<text transform="translate(72.60,0.00) scale(0.844,1.000)" font-size="23.00">;</text>
<text transform="translate(82.26,0.00) scale(1.130,1.170)" font-size="23.00" font-style="italic" stroke="#fff" stroke-width="0.15">t</text>
<text transform="translate(90.90,0.00) scale(0.844,1.000)" font-size="23.00">;</text>
<text transform="translate(101.42,0.00) scale(1.111,0.910)" font-size="23.00" font-style="italic" stroke="#fff" stroke-width="0.15">μ</text>
<path d="M115.60,-17.90 A15.43,15.43 0 0 1 115.60,5.20 L115.10,5.20 A17.82,17.82 0 0 0 115.10,-17.90 Z"/>
<text transform="translate(124.50,4.87) scale(1.330,1.488)" font-size="23.00" stroke="#fff" stroke-width="0.15">/</text>
<use href="#calF" transform="translate(134.61,0.10) scale(0.01123,-0.01123)"/>
<text transform="translate(151.42,3.20) scale(0.959,1.000)" font-size="16.00">0</text>
<path d="M168.00,-17.90 A15.05,15.05 0 0 0 168.00,5.20 L168.50,5.20 A17.21,17.21 0 0 1 168.50,-17.90 Z"/>
<text transform="translate(168.96,0.00) scale(1.113,0.960)" font-size="23.00" font-style="italic" stroke="#fff" stroke-width="0.15">r</text>
<text transform="translate(180.40,0.00) scale(0.844,1.000)" font-size="23.00">;</text>
<text transform="translate(189.66,0.00) scale(1.130,1.170)" font-size="23.00" font-style="italic" stroke="#fff" stroke-width="0.15">t</text>
<path d="M199.50,-17.90 A15.05,15.05 0 0 1 199.50,5.20 L199.00,5.20 A17.21,17.21 0 0 0 199.00,-17.90 Z"/></g>
</svg></body></html>
